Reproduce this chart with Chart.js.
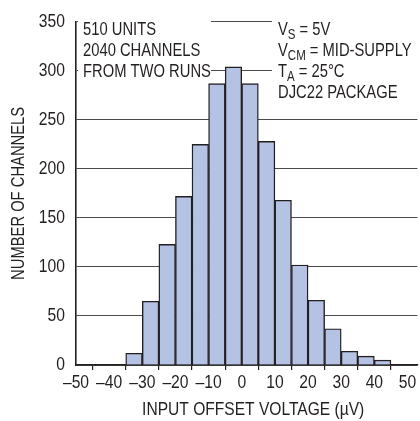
<!DOCTYPE html>
<html>
<head>
<meta charset="utf-8">
<script src="https://cdn.jsdelivr.net/npm/chart.js@4"></script>
<style>
  html, body { margin: 0; padding: 0; background: #fff; }
  #wrap { width: 420px; height: 421px; position: relative; }
</style>
</head>
<body>
<div id="wrap"><canvas id="c" width="420" height="421"></canvas></div>
<script>
// Histogram bins (left edge, µV) and counts
const binStarts = [-35, -30, -25, -20, -15, -10, -5, 0, 5, 10, 15, 20, 25, 30, 35, 40];
const binWidth = 5;
const counts = [12, 65, 123, 172, 225, 287, 304, 287, 228, 168, 102, 66, 37, 14, 9, 5];
const xTicks = [-50, -40, -30, -20, -10, 0, 10, 20, 30, 40, 50];
const yTicks = [0, 50, 100, 150, 200, 250, 300, 350];
const noteLeft = ["510 UNITS", "2040 CHANNELS", "FROM TWO RUNS"];
const noteRight = [
  [["V", ""], ["S", "sub"], [" = 5V", ""]],
  [["V", ""], ["CM", "sub"], [" = MID-SUPPLY", ""]],
  [["T", ""], ["A", "sub"], [" = 25°C", ""]],
  [["DJC22 PACKAGE", ""]]
];
const xTitle = "\u00a0\u00a0\u00a0INPUT OFFSET VOLTAGE (µV)";
const yTitle = "NUMBER OF CHANNELS";

const FONT = "'Liberation Sans', Arial, sans-serif";
const TXT = '#231f20';
const NUM_SQUEEZE = 0.87;
const TXT_SQUEEZE = 0.82;

function squeezeFor(t) { return /^[\d–\-\s]+$/.test(String(t)) ? NUM_SQUEEZE : TXT_SQUEEZE; }

// Condensed lettering: horizontally squeeze every text run drawn on the chart canvas
const condensed = {
  id: 'condensed',
  beforeInit(chart) {
    const ctx = chart.ctx;
    const orig = CanvasRenderingContext2D.prototype.fillText;
    ctx.fillText = function (t, x, y, mw) {
      const f = squeezeFor(t);
      this.save();
      this.translate(x, y);
      this.scale(f, 1);
      if (mw === undefined) orig.call(this, t, 0, 0);
      else orig.call(this, t, 0, 0, mw / f);
      this.restore();
    };
  }
};

const notes = {
  id: 'notes',
  beforeDatasetsDraw(chart) {
    const ctx = chart.ctx;
    ctx.save();
    ctx.fillStyle = '#fff';
    ctx.fillRect(78, 15, 133, 68);
    ctx.fillRect(272, 15, 148, 88);
    ctx.fillStyle = TXT;
    ctx.textBaseline = 'alphabetic';
    ctx.textAlign = 'left';
    ctx.font = "18px " + FONT;
    noteLeft.forEach((t, i) => ctx.fillText(t, 83, 35 + i * 21));
    noteRight.forEach((parts, i) => {
      let x = 278;
      const y = 35 + i * 21;
      parts.forEach(([t, k]) => {
        if (k === 'sub') {
          ctx.font = "14px " + FONT;
          ctx.fillText(t, x, y + 4);
        } else {
          ctx.font = "18px " + FONT;
          ctx.fillText(t, x, y);
        }
        x += ctx.measureText(t).width * squeezeFor(t);
      });
    });
    ctx.restore();
  }
};

new Chart(document.getElementById('c'), {
  type: 'bar',
  data: {
    datasets: [{
      data: binStarts.map((s, i) => ({ x: s + binWidth / 2, y: counts[i] })),
      backgroundColor: '#b4c2e4',
      borderColor: '#231f20',
      borderWidth: 1.4,
      borderSkipped: 'bottom',
      barPercentage: 1,
      categoryPercentage: 1
    }]
  },
  options: {
    responsive: false,
    animation: false,
    devicePixelRatio: 1,
    layout: { padding: { left: 0, right: 0, top: 13, bottom: 0 } },
    plugins: { legend: { display: false }, tooltip: { enabled: false } },
    scales: {
      x: {
        type: 'linear',
        min: -50,
        max: 53,
        offset: false,
        afterBuildTicks(scale) { scale.ticks = xTicks.map(v => ({ value: v })); },
        afterFit(scale) { scale.height = 56; },
        ticks: {
          autoSkip: false,
          maxRotation: 0,
          padding: 2.5,
          color: TXT,
          font: { family: FONT, size: 18 },
          callback: v => (v < 0 ? '–' + Math.abs(v) : '' + v)
        },
        grid: { display: true, drawOnChartArea: false, drawTicks: true, tickLength: 5, color: '#231f20', lineWidth: 1.2 },
        border: { display: true, color: '#231f20', width: 1.6 },
        title: { display: true, text: xTitle, color: TXT, font: { family: FONT, size: 19 }, padding: { top: 0, bottom: 0 } }
      },
      y: {
        min: 0,
        max: 350,
        afterBuildTicks(scale) { scale.ticks = yTicks.map(v => ({ value: v })); },
        afterFit(scale) { scale.width = 76; },
        ticks: { padding: 11, color: TXT, font: { family: FONT, size: 18 } },
        grid: { color: '#4a4a4a', lineWidth: 1, drawTicks: false },
        border: { display: true, color: '#231f20', width: 1.6 },
        title: { display: true, text: yTitle, color: TXT, font: { family: FONT, size: 18 }, padding: { top: 8, bottom: 0 } }
      }
    }
  },
  plugins: [condensed, notes]
});
</script>
</body>
</html>
